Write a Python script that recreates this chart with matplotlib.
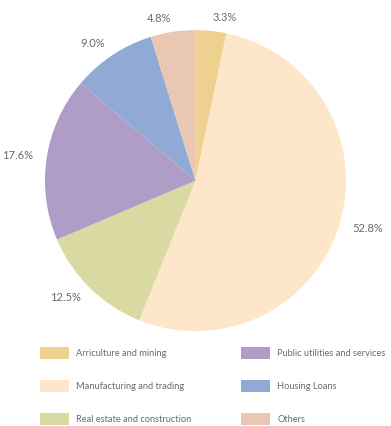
import matplotlib.pyplot as plt
from matplotlib.patches import Patch

# Loan portfolio by sector (share, %)
sectors = ["Arriculture and mining", "Manufacturing and trading",
           "Real estate and construction", "Public utilities and services",
           "Housing Loans", "Others"]
shares = [3.3, 52.8, 12.5, 17.6, 9.0, 4.8]
pct_labels = ["3.3%", "52.8%", "12.5%", "17.6%", "9.0%", "4.8%"]
colors = ["#EED18F", "#FDE6CA", "#D9DAA2", "#AF9DC7", "#90A9D5", "#E9C7B2"]

plt.rcParams['font.family'] = ['Lato', 'DejaVu Sans']

fig = plt.figure(figsize=(3.91, 4.26), dpi=100)
ax = fig.add_axes([0.115, 0.222, 0.77, 0.708])

wedges, texts = ax.pie(shares, colors=colors, startangle=90, counterclock=False,
                       labels=pct_labels, labeldistance=1.09,
                       textprops=dict(color="#6a6a6a", fontsize=8),
                       wedgeprops=dict(linewidth=0))
ax.set_xlim(-1, 1)
ax.set_ylim(-1, 1)
ax.set_aspect('equal')

handles = [Patch(facecolor=c, edgecolor='none') for c in colors]
fig.legend(handles, sectors, loc='upper left', bbox_to_anchor=(0.08, 0.206),
           ncol=2, frameon=False, fontsize=6.7, labelcolor="#6a6a6a",
           handlelength=3.1, handleheight=1.6, handletextpad=0.8,
           labelspacing=2.3, columnspacing=5.35)

fig.savefig("out.png", dpi=100)
